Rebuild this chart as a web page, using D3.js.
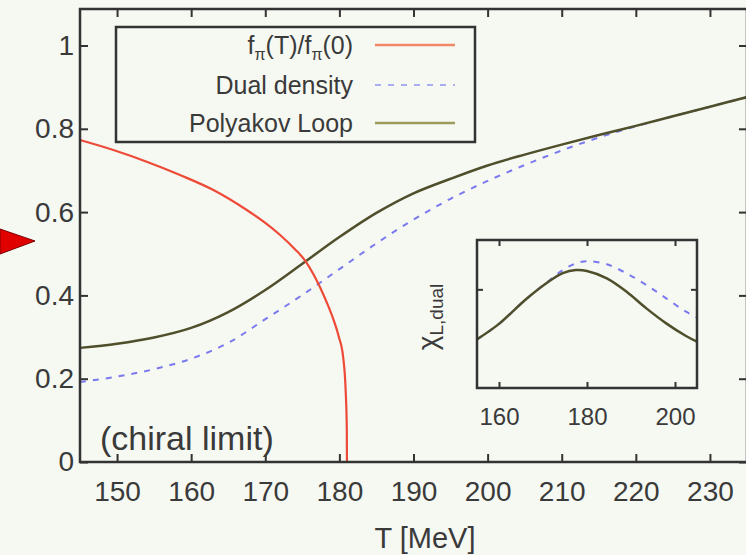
<!DOCTYPE html>
<html><head><meta charset="utf-8">
<script src="https://cdn.jsdelivr.net/npm/d3@7"></script>
<style>
html,body{margin:0;padding:0;background:#f6f8f2;}
svg{display:block;}
text{font-family:"Liberation Sans",Arial,sans-serif;fill:#3a3a3a;}
</style></head>
<body>
<svg id="chart" width="746" height="555"></svg>
<script>
// ---- data ----
const xTicks = [150,160,170,180,190,200,210,220,230];
const yTicks = [0,0.2,0.4,0.6,0.8,1];
const yTickLabels = ["0","0.2","0.4","0.6","0.8","1"];

const fpiT   = [145,149.5,154,158.5,163,167.5,170,172,174,175.4,176.5,177.4,178.3,179.2,179.9,180.5,180.85,181.0,181.02];
const fpiVal = [0.773,0.749,0.721,0.689,0.653,0.605,0.574,0.545,0.511,0.483,0.451,0.419,0.383,0.342,0.302,0.253,0.170,0.080,0.0];

const polyT   = [145,150,155,160,165,170,175,180,185,190,195,200,205,210,215,220,225,230,235];
const polyVal = [0.274,0.284,0.299,0.322,0.360,0.413,0.476,0.540,0.598,0.645,0.680,0.712,0.738,0.762,0.785,0.807,0.830,0.853,0.876];

const dualT   = [145,150,155,160,165,170,175,180,185,190,195,200,205,210,215,220,225,230,235];
const dualVal = [0.192,0.205,0.223,0.248,0.286,0.343,0.401,0.463,0.525,0.582,0.632,0.675,0.713,0.748,0.779,0.806,0.830,0.853,0.876];

// inset: susceptibilities (arbitrary units)
const insetXTicks = [160,180,200];
const insetYTicks = [1.0];
const insetT       = [155,160,166,171,174.5,177.5,180,184.5,189,193.5,198,202.5,205];
const insetPoly    = [0.493,0.650,0.895,1.070,1.165,1.196,1.186,1.111,0.976,0.807,0.655,0.527,0.470];
const insetDual    = [0.493,0.650,0.895,1.075,1.195,1.264,1.285,1.254,1.162,1.044,0.909,0.773,0.716];

const legendLabels = ["fπ(T)/fπ(0)","Dual density","Polyakov Loop"];

// ---- drawing ----
const svg = d3.select("#chart");
svg.append("rect").attr("width",746).attr("height",555).attr("fill","#f6f8f2");

const x = d3.scaleLinear().domain([145,235]).range([80,747]);
const y = d3.scaleLinear().domain([0,1]).range([462,45.5]);
const yTop = 9;

const RED="#ee4a38", OLIVE="#4f4f2c", BLUE="#7a7aee";

// axes
const gx = svg.append("g").attr("transform","translate(0,462)")
  .call(d3.axisBottom(x).tickValues(xTicks).tickSize(-8).tickPadding(19).tickFormat(d3.format("d")));
const gxt = svg.append("g").attr("transform",`translate(0,${yTop})`)
  .call(d3.axisTop(x).tickValues(xTicks).tickSize(-8).tickFormat(""));
const gy = svg.append("g").attr("transform","translate(80,0)")
  .call(d3.axisLeft(y).tickValues(yTicks).tickSize(-8).tickPadding(6).tickFormat((d,i)=>yTickLabels[i]));
const gyr = svg.append("g").attr("transform","translate(747,0)")
  .call(d3.axisRight(y).tickValues(yTicks).tickSize(-8).tickFormat(""));
[gx,gxt,gy,gyr].forEach(g=>{
  g.select(".domain").remove();
  g.selectAll(".tick line").attr("stroke","#333").attr("stroke-width",2);
  g.selectAll("text").attr("font-size",28).attr("fill","#3a3a3a")
   .attr("font-family","'Liberation Sans',Arial,sans-serif");
});

// curves
const smooth = d3.line().x(d=>x(d[0])).y(d=>y(d[1])).curve(d3.curveCatmullRom.alpha(0.5));
const mono = d3.line().x(d=>x(d[0])).y(d=>y(d[1])).curve(d3.curveMonotoneX);
svg.append("path").datum(dualT.map((t,i)=>[t,dualVal[i]])).attr("d",smooth)
  .attr("fill","none").attr("stroke",BLUE).attr("stroke-width",2).attr("stroke-dasharray","6,7");
svg.append("path").datum(polyT.map((t,i)=>[t,polyVal[i]])).attr("d",smooth)
  .attr("fill","none").attr("stroke",OLIVE).attr("stroke-width",2.5);
svg.append("path").datum(fpiT.map((t,i)=>[t,fpiVal[i]])).attr("d",mono)
  .attr("fill","none").attr("stroke",RED).attr("stroke-width",2.2);

// frame
svg.append("rect").attr("x",80).attr("y",yTop).attr("width",667).attr("height",462-yTop)
  .attr("fill","none").attr("stroke","#333").attr("stroke-width",2.5);

// x-axis title
svg.append("text").attr("x",425).attr("y",548).attr("text-anchor","middle")
  .attr("font-size",29).text("T [MeV]");

// chiral limit
svg.append("text").attr("x",100).attr("y",450).attr("font-size",34).attr("fill","#5a5048").text("(chiral limit)");

// legend
const lg = svg.append("g");
lg.append("rect").attr("x",116).attr("y",27).attr("width",359).attr("height",115)
  .attr("fill","none").attr("stroke","#333").attr("stroke-width",2.5);
const rowsY=[45,85,123];
const t0 = lg.append("text").attr("x",353).attr("y",rowsY[0]+9).attr("text-anchor","end").attr("font-size",25);
t0.append("tspan").text("f");
t0.append("tspan").attr("font-size",16).attr("dy",6).text("π");
t0.append("tspan").attr("dy",-6).text("(T)/f");
t0.append("tspan").attr("font-size",16).attr("dy",6).text("π");
t0.append("tspan").attr("dy",-6).text("(0)");
lg.append("text").attr("x",353).attr("y",rowsY[1]+9).attr("text-anchor","end").attr("font-size",25).text(legendLabels[1]);
lg.append("text").attr("x",353).attr("y",rowsY[2]+9).attr("text-anchor","end").attr("font-size",25).text(legendLabels[2]);
lg.append("line").attr("x1",375).attr("x2",455).attr("y1",rowsY[0]).attr("y2",rowsY[0]).attr("stroke","#f08868").attr("stroke-width",2.5);
lg.append("line").attr("x1",375).attr("x2",455).attr("y1",rowsY[1]).attr("y2",rowsY[1]).attr("stroke","#a8aef0").attr("stroke-width",2).attr("stroke-dasharray","6,7");
lg.append("line").attr("x1",375).attr("x2",455).attr("y1",rowsY[2]).attr("y2",rowsY[2]).attr("stroke","#9c9c5c").attr("stroke-width",2.5);

// inset
const ix = d3.scaleLinear().domain([155,205]).range([477,697]);
const iy = d3.scaleLinear().domain([0,1.5]).range([388,240]);
const ig = svg.append("g");
const igx = ig.append("g").attr("transform","translate(0,388)")
  .call(d3.axisBottom(ix).tickValues(insetXTicks).tickSize(-6).tickPadding(20).tickFormat(d3.format("d")));
const igxt = ig.append("g").attr("transform","translate(0,240)")
  .call(d3.axisTop(ix).tickValues(insetXTicks).tickSize(-6).tickFormat(""));
const igy = ig.append("g").attr("transform","translate(477,0)")
  .call(d3.axisLeft(iy).tickValues(insetYTicks).tickSize(-6).tickFormat(""));
const igyr = ig.append("g").attr("transform","translate(697,0)")
  .call(d3.axisRight(iy).tickValues(insetYTicks).tickSize(-6).tickFormat(""));
[igx,igxt,igy,igyr].forEach(g=>{
  g.select(".domain").remove();
  g.selectAll(".tick line").attr("stroke","#333").attr("stroke-width",2);
  g.selectAll("text").attr("font-size",24).attr("fill","#3a3a3a")
   .attr("font-family","'Liberation Sans',Arial,sans-serif");
});
const iline = d3.line().x(d=>ix(d[0])).y(d=>iy(d[1])).curve(d3.curveCatmullRom.alpha(0.5));
ig.append("path").datum(insetT.map((t,i)=>[t,insetDual[i]])).attr("d",iline)
  .attr("fill","none").attr("stroke",BLUE).attr("stroke-width",2).attr("stroke-dasharray","6,7");
ig.append("path").datum(insetT.map((t,i)=>[t,insetPoly[i]])).attr("d",iline)
  .attr("fill","none").attr("stroke",OLIVE).attr("stroke-width",2.5);
ig.append("rect").attr("x",477).attr("y",240).attr("width",220).attr("height",148)
  .attr("fill","none").attr("stroke","#333").attr("stroke-width",2.5);
const il = ig.append("text").attr("transform","translate(437,317) rotate(-90)")
  .attr("text-anchor","middle").attr("font-size",28);
il.append("tspan").text("χ");
il.append("tspan").attr("font-size",19).attr("dy",6).text("L,dual");

// red arrow marker at left
svg.append("path").attr("d","M0,229 L35,241 L0,254 Z").attr("fill","#e00000").attr("stroke","#7a0000").attr("stroke-width",1);
</script>
</body></html>
